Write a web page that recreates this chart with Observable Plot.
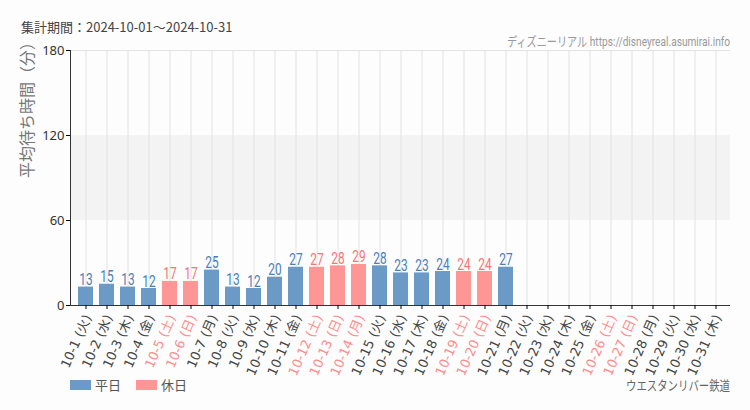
<!DOCTYPE html>
<html>
<head>
<meta charset="utf-8">
<script src="https://cdn.jsdelivr.net/npm/d3@7"></script>
<script src="https://cdn.jsdelivr.net/npm/@observablehq/plot@0.6"></script>
<style>
  html, body { margin: 0; padding: 0; background: #fcfdfc; }
  #wrap { position: relative; width: 750px; height: 410px; overflow: hidden; background: #fcfdfc; font-family: "Noto Sans CJK JP", "Noto Sans", sans-serif; }
  #chart { position: absolute; left: 0; top: 0; }
  .abs { position: absolute; white-space: nowrap; line-height: 1; }
  #title { left: 21px; top: 20px; font-size: 13px; color: #444; }
  #source { right: 20px; top: 34px; font-size: 13px; color: #9a9a9a; transform: scaleX(0.78); transform-origin: right center; font-family: "Roboto", "Noto Sans CJK JP", sans-serif; }
  #source .jp { font-family: "Noto Sans CJK JP", sans-serif; }
  #caption { right: 20px; top: 378px; font-size: 13px; color: #666; transform: scaleX(0.8); transform-origin: right center; }
  #legend { left: 70px; top: 378px; font-size: 13px; color: #555; display: flex; align-items: center; }
  .sw { display: inline-block; width: 21px; height: 10px; margin-right: 4px; }
  .item { display: inline-flex; align-items: center; margin-right: 15px; }
</style>
</head>
<body>
<div id="wrap">
  <div id="chart"></div>
  <div id="title" class="abs"></div>
  <div id="source" class="abs"></div>
  <div id="legend" class="abs"></div>
  <div id="caption" class="abs"></div>
</div>
<script>
// ---- data ----
const titleText = "集計期間：2024-10-01～2024-10-31";
const sourceJp = "ディズニーリアル";
const sourceUrl = "https://disneyreal.asumirai.info";
const captionText = "ウエスタンリバー鉄道";
const yLabel = "平均待ち時間（分）";
const days = ["10-1","10-2","10-3","10-4","10-5","10-6","10-7","10-8","10-9","10-10",
  "10-11","10-12","10-13","10-14","10-15","10-16","10-17","10-18","10-19","10-20",
  "10-21","10-22","10-23","10-24","10-25","10-26","10-27","10-28","10-29","10-30","10-31"];
const weekdays = ["火","水","木","金","土","日","月","火","水","木",
  "金","土","日","月","火","水","木","金","土","日",
  "月","火","水","木","金","土","日","月","火","水","木"];
const waitValues = [13,15,13,12,17,17,25,13,12,20,27,27,28,29,28,23,23,24,24,24,27,
  null,null,null,null,null,null,null,null,null,null];
const holidays = ["10-5","10-6","10-12","10-13","10-14","10-19","10-20","10-26","10-27"];
const legendNames = ["平日","休日"];
const yTicks = [0, 60, 120, 180];

// ---- styles ----
const barColor = {weekday: "#6b9ac6", holiday: "#fe9696"};
const labelColor = {weekday: "#4a7db6", holiday: "#f47575"};
const axisLabelColor = {weekday: "#444", holiday: "#ff8c8c"};

const rows = days.map((d, i) => ({
  day: d, wd: weekdays[i], value: waitValues[i],
  kind: holidays.includes(d) ? "holiday" : "weekday"
}));
const withData = rows.filter(r => r.value != null);

document.getElementById("title").textContent = titleText;
document.getElementById("source").innerHTML = `<span class="jp">${sourceJp}</span> ${sourceUrl}`;
document.getElementById("caption").textContent = captionText;
document.getElementById("legend").innerHTML =
  `<span class="item"><span class="sw" style="background:${barColor.weekday}"></span>${legendNames[0]}</span>` +
  `<span class="item"><span class="sw" style="background:${barColor.holiday}"></span>${legendNames[1]}</span>`;

const chart = Plot.plot({
  width: 750,
  height: 410,
  marginTop: 50,
  marginBottom: 105,
  marginLeft: 70,
  marginRight: 20,
  style: {background: "transparent", overflow: "visible"},
  x: {type: "band", domain: days, paddingInner: 0.3, paddingOuter: 0.15, label: null},
  y: {domain: [0, 180], label: null},
  color: {type: "identity"},
  marks: [
    Plot.rect([{y1: 60, y2: 120}], {y1: "y1", y2: "y2", fill: "#f3f3f3"}),
    Plot.ruleY([180], {stroke: "#e2e2e2"}),
    Plot.gridX({stroke: "#e2e2e2", strokeOpacity: 1}),
    Plot.barY(withData, {x: "day", y: "value", fill: d => barColor[d.kind]}),
    Plot.text(withData, {
      x: "day", y: "value", text: d => String(d.value),
      fill: d => labelColor[d.kind], lineAnchor: "bottom", dy: -2,
      fontSize: 16, fontFamily: "Roboto, sans-serif", className: "vlabel"
    }),
    Plot.ruleY([0], {stroke: "#333"}),
    Plot.frame({anchor: "left", stroke: "#333"}),
    Plot.axisY({ticks: yTicks, tickSize: 4, label: null, fontSize: 13, fill: "#333", tickPadding: 2}),
    Plot.axisX({tickSize: 4, tickFormat: () => "", label: null}),
    Plot.text(rows, {
      x: "day", frameAnchor: "bottom", text: d => `${d.day} (${d.wd})`,
      rotate: -66, textAnchor: "end", lineAnchor: "middle", dy: 10, dx: 2,
      fill: d => axisLabelColor[d.kind], fontSize: 13,
      fontFamily: "'DejaVu Sans', 'Noto Sans CJK JP', sans-serif"
    }),
    Plot.text([yLabel], {
      frameAnchor: "left", text: d => d, rotate: -90, dx: -43,
      fill: "#777", fontSize: 16, fontFamily: "'Noto Sans CJK JP', sans-serif"
    })
  ]
});
document.getElementById("chart").appendChild(chart);
// condense the bar value labels horizontally (tall, narrow digits as in the reference)
chart.querySelectorAll(".vlabel text").forEach(t => {
  const w = t.getComputedTextLength();
  t.setAttribute("textLength", (w * 0.74).toFixed(1));
  t.setAttribute("lengthAdjust", "spacingAndGlyphs");
});
</script>
</body>
</html>
